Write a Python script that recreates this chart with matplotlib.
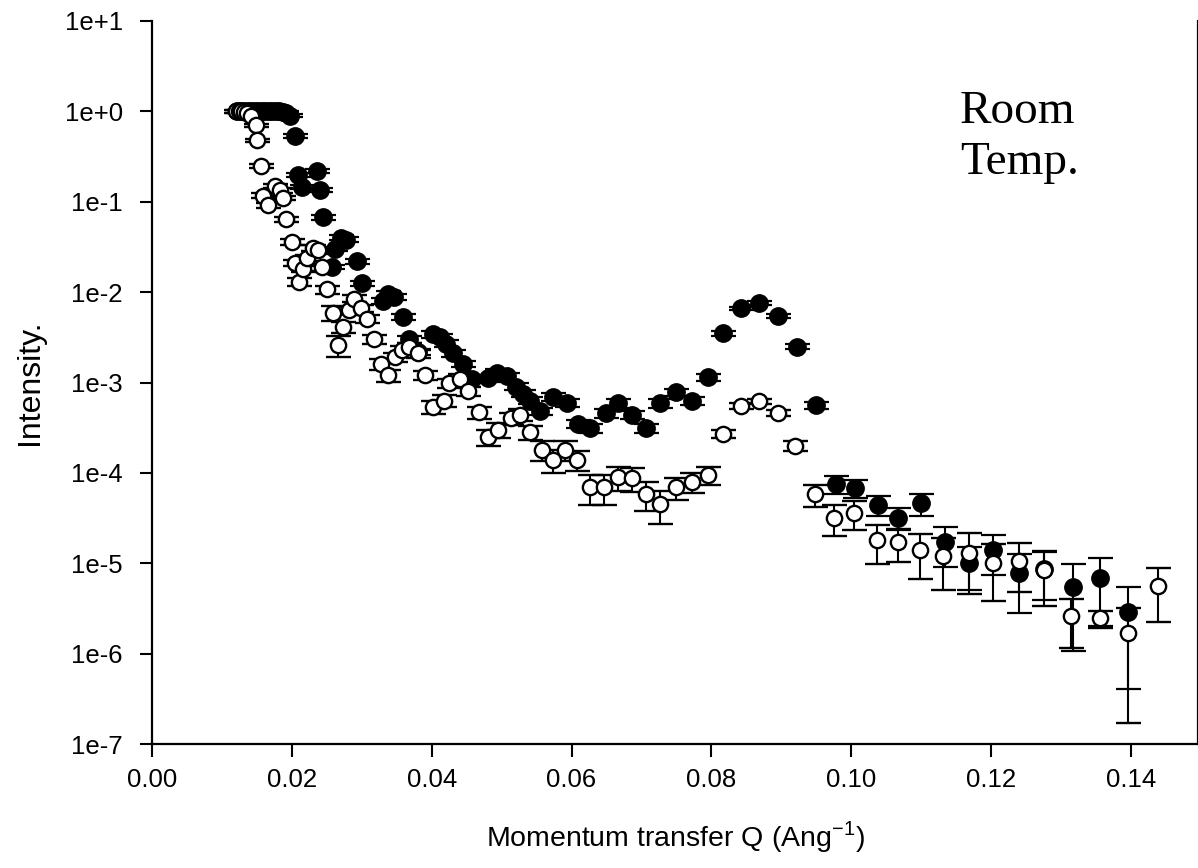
import matplotlib
matplotlib.use("Agg")
import matplotlib.pyplot as plt
from matplotlib.ticker import FuncFormatter, NullLocator, FixedLocator
import numpy as np

plt.rcParams['font.family'] = ['Liberation Sans', 'DejaVu Sans']

# filled circles: Q (1/Ang), intensity, relative error
q_fill = [0.0122, 0.0127, 0.0132, 0.0137, 0.0142, 0.0147, 0.0152, 0.0157, 0.0162,
          0.0167, 0.0172, 0.0177, 0.0182, 0.0187, 0.0192, 0.0198, 0.0205,
          0.0209, 0.0214, 0.0236, 0.0241, 0.0245,
          0.0258, 0.0262, 0.0270, 0.0278, 0.0293, 0.0300,
          0.0330, 0.0338, 0.0346, 0.0359,
          0.0367, 0.0380, 0.0402, 0.0412, 0.0420, 0.0431, 0.0445, 0.0458,
          0.0480, 0.0494, 0.0508, 0.0520, 0.0530, 0.0541, 0.0555,
          0.0574, 0.0594, 0.0610, 0.0627, 0.0649, 0.0666, 0.0687, 0.0706,
          0.0727, 0.0749, 0.0773, 0.0795, 0.0817, 0.0842, 0.0868, 0.0895,
          0.0922, 0.0949,
          0.0978, 0.1006, 0.1038, 0.1067, 0.1100, 0.1134, 0.1168, 0.1203,
          0.1240, 0.1276, 0.1317, 0.1356, 0.1396]
i_fill = [1.0, 1.0, 1.0, 1.0, 1.0, 1.0, 1.0, 1.0, 1.0,
          1.0, 1.0, 1.0, 1.0, 0.98, 0.97, 0.90, 0.54,
          0.20, 0.145, 0.22, 0.135, 0.067,
          0.019, 0.030, 0.040, 0.038, 0.022, 0.0125,
          0.0080, 0.0095, 0.0088, 0.0053,
          0.0030, 0.0022, 0.0034, 0.0032, 0.0027, 0.0021, 0.0016, 0.0011,
          0.00112, 0.00128, 0.00118, 0.00090, 0.00075, 0.00063, 0.00048,
          0.00069, 0.00059, 0.00035, 0.00031, 0.00046, 0.00059, 0.00044, 0.00031,
          0.00059, 0.00078, 0.00063, 0.00114, 0.0035, 0.0066, 0.0076, 0.0055,
          0.0025, 0.00056,
          7.6e-5, 6.8e-5, 4.4e-5, 3.2e-5, 4.6e-5, 1.7e-5, 1.0e-5, 1.4e-5,
          7.8e-6, 8.7e-6, 5.4e-6, 6.8e-6, 2.9e-6]
r_fill = [0.03, 0.03, 0.03, 0.03, 0.03, 0.03, 0.03, 0.03, 0.03,
          0.03, 0.03, 0.03, 0.03, 0.03, 0.03, 0.04, 0.05,
          0.05, 0.05, 0.05, 0.05, 0.06,
          0.06, 0.06, 0.06, 0.06, 0.06, 0.06,
          0.07, 0.07, 0.07, 0.07,
          0.08, 0.08, 0.08, 0.08, 0.08, 0.08, 0.08, 0.08,
          0.09, 0.09, 0.09, 0.09, 0.09, 0.09, 0.10,
          0.10, 0.10, 0.11, 0.11, 0.11, 0.11, 0.11, 0.12,
          0.11, 0.10, 0.10, 0.08, 0.06, 0.05, 0.05, 0.05,
          0.06, 0.10,
          0.23, 0.22, 0.25, 0.28, 0.28, 0.47, 0.50, 0.47,
          0.64, 0.55, 0.80, 0.70, 0.86]

# open circles
q_open = [0.0120, 0.0124, 0.0128, 0.0132, 0.0136, 0.0142, 0.0149, 0.0150, 0.0156,
          0.0159, 0.0166, 0.0176, 0.0183, 0.0188, 0.0192, 0.0200, 0.0205, 0.0210,
          0.0216, 0.0222, 0.0230, 0.0238, 0.0243, 0.0250, 0.0259, 0.0266, 0.0273,
          0.0282, 0.0289, 0.0299, 0.0308, 0.0318, 0.0328, 0.0338, 0.0348, 0.0358,
          0.0368, 0.0381, 0.0391, 0.0402, 0.0417, 0.0425, 0.0440, 0.0452, 0.0467,
          0.0481, 0.0495, 0.0513, 0.0527, 0.0541, 0.0558, 0.0574, 0.0591, 0.0608,
          0.0627, 0.0647, 0.0666, 0.0686, 0.0707, 0.0727, 0.0750, 0.0773, 0.0795,
          0.0817, 0.0843, 0.0868, 0.0895, 0.0919,
          0.0948, 0.0976, 0.1004, 0.1037, 0.1067, 0.1098, 0.1132, 0.1168, 0.1203,
          0.1240, 0.1276, 0.1314, 0.1356, 0.1396, 0.1439]
i_open = [1.0, 1.0, 1.0, 0.98, 0.95, 0.88, 0.70, 0.48, 0.25,
          0.117, 0.091, 0.15, 0.134, 0.11, 0.064, 0.036, 0.021, 0.013,
          0.018, 0.024, 0.031, 0.029, 0.019, 0.0107, 0.0059, 0.0026, 0.0041,
          0.0063, 0.0085, 0.0066, 0.0051, 0.0030, 0.0016, 0.0012, 0.0019, 0.0023,
          0.0025, 0.0021, 0.0012, 0.00054, 0.00063, 0.00098, 0.0011, 0.00080, 0.00047,
          0.00025, 0.00030, 0.00040, 0.00044, 0.00028, 0.00018, 0.00014, 0.00018, 0.00014,
          6.9e-5, 6.9e-5, 8.9e-5, 8.7e-5, 5.9e-5, 4.5e-5, 6.9e-5, 7.9e-5, 9.4e-5,
          0.00027, 0.00055, 0.00062, 0.00046, 0.00020,
          5.8e-5, 3.2e-5, 3.6e-5, 1.8e-5, 1.7e-5, 1.4e-5, 1.2e-5, 1.3e-5, 1.0e-5,
          1.07e-5, 8.5e-6, 2.6e-6, 2.45e-6, 1.7e-6, 5.6e-6]
r_open = [0.03, 0.03, 0.03, 0.03, 0.03, 0.03, 0.04, 0.04, 0.05,
          0.06, 0.06, 0.06, 0.06, 0.06, 0.07, 0.08, 0.08, 0.10,
          0.08, 0.08, 0.08, 0.08, 0.09, 0.10, 0.18, 0.26, 0.15,
          0.10, 0.08, 0.09, 0.10, 0.12, 0.15, 0.15, 0.12, 0.10,
          0.10, 0.10, 0.12, 0.16, 0.15, 0.12, 0.12, 0.12, 0.15,
          0.20, 0.18, 0.15, 0.15, 0.18, 0.25, 0.28, 0.25, 0.26,
          0.36, 0.36, 0.29, 0.30, 0.36, 0.39, 0.27, 0.25, 0.22,
          0.10, 0.07, 0.07, 0.08, 0.12,
          0.27, 0.37, 0.36, 0.46, 0.40, 0.52, 0.58, 0.65, 0.62,
          0.55, 0.60, 0.56, 0.22, 0.90, 0.60]

xticks = [0.00, 0.02, 0.04, 0.06, 0.08, 0.10, 0.12, 0.14]
yticks = [1e1, 1e0, 1e-1, 1e-2, 1e-3, 1e-4, 1e-5, 1e-6, 1e-7]

fig = plt.figure(figsize=(11.98, 8.68), dpi=100)
ax = fig.add_axes([152 / 1198, 1 - 744 / 868, 1 - 152 / 1198, (744 - 21) / 868])

q_fill = np.array(q_fill)
i_fill = np.array(i_fill)
q_open = np.array(q_open)
i_open = np.array(i_open)

# solid symbols underneath, open symbols drawn over them
ax.errorbar(q_fill, i_fill, yerr=i_fill * np.array(r_fill), fmt='o', ms=12.5,
            mfc='black', mec='black', ecolor='black', elinewidth=1.5,
            capsize=9, capthick=1.6, zorder=2)
ax.errorbar(q_open, i_open, yerr=i_open * np.array(r_open), fmt='o', ms=11,
            mfc='white', mec='black', mew=1.7, ecolor='black', elinewidth=1.5,
            capsize=9, capthick=1.6, zorder=3)

ax.set_yscale('log')
ax.set_ylim(1e-7, 1e1)
ax.set_xlim(0, (1197 - 152) / 6985)
ax.yaxis.set_major_locator(FixedLocator(yticks))
ax.yaxis.set_minor_locator(NullLocator())
ax.yaxis.set_major_formatter(FuncFormatter(lambda v, p: "1e%+d" % int(round(np.log10(v)))))
ax.set_xticks(xticks)
ax.set_xticklabels(["%.2f" % t for t in xticks])

for s in ['left', 'bottom', 'right']:
    ax.spines[s].set_linewidth(1.6)
ax.spines['top'].set_visible(False)
ax.tick_params(direction='out', length=9, width=1.5, labelsize=18.5, pad=8)
ax.tick_params(axis='y', pad=12)

ax.set_xlabel("Momentum transfer Q (Ang$^{\\mathregular{-1}}$)", fontsize=20.5, labelpad=20)
ax.set_ylabel("Intensity.", fontsize=23, labelpad=14)

fig.text(960 / 1198, 1 - 123 / 868, "Room", family='Liberation Serif', fontsize=34,
         ha='left', va='baseline')
fig.text(960 / 1198, 1 - 174 / 868, "Temp.", family='Liberation Serif', fontsize=34,
         ha='left', va='baseline')

fig.savefig("out.png", dpi=100)
